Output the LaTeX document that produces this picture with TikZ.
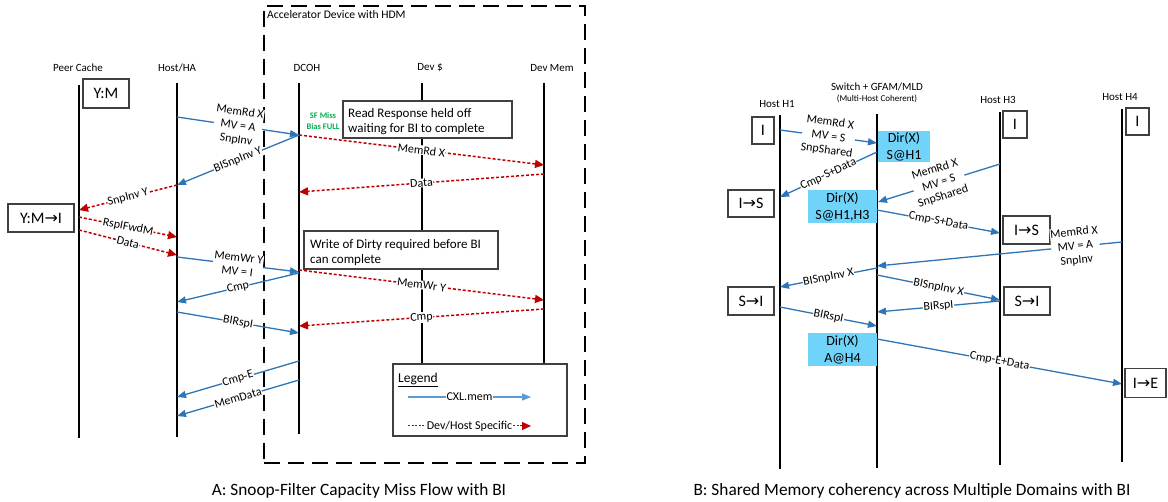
\documentclass[tikz,border=0pt]{standalone}
\usepackage{fontspec}
\setmainfont{Carlito}
\newfontfamily\symfont{DejaVu Sans}
\usetikzlibrary{arrows.meta}
\definecolor{cxlblue}{RGB}{46,117,182}
\definecolor{devred}{RGB}{192,0,0}
\definecolor{dircyan}{RGB}{112,211,250}
\definecolor{sfgreen}{RGB}{0,176,80}
\definecolor{legblue}{RGB}{91,155,213}
\definecolor{boxgray}{RGB}{64,64,64}
\newcommand\rarrow{{\symfont →}}
\begin{document}
\begin{tikzpicture}[x=1pt,y=-1pt,
  life/.style={line width=1.2pt,black},
  barr/.style={draw=cxlblue,line width=1.3pt,-{Triangle[length=9pt,width=7pt]}},
  rarr/.style={draw=devred,line width=1.5pt,dash pattern=on 3pt off 2pt,-{Triangle[length=9pt,width=8pt]}},
  elbl/.style={midway,sloped,fill=white,inner sep=0.5pt,font=\fontsize{12}{14}\selectfont,align=center,text=black},
  llbl/.style={font=\fontsize{11}{13}\selectfont,inner sep=0pt},
  state/.style={draw=boxgray,line width=1.2pt,fill=white,font=\fontsize{16}{18}\selectfont,inner sep=0pt},
  dirbox/.style={fill=dircyan,font=\fontsize{14}{17}\selectfont,align=center,inner sep=0pt},
  notebox/.style={draw=boxgray,line width=1.1pt,fill=white,inner sep=0pt},
  notetext/.style={font=\fontsize{13}{15}\selectfont,align=left,inner sep=0pt},
  leglbl/.style={fill=white,inner sep=0.5pt,font=\fontsize{12}{14}\selectfont}
]
\useasboundingbox (0,0) rectangle (1168,502);
\fill[white] (0,0) rectangle (1168,502);

% ---------------- Part A ----------------
\node[draw,line width=2.2pt,dash pattern=on 16pt off 8pt,minimum width=321pt,minimum height=457pt,inner sep=0pt] (accbox) at (424.5,234.5) {};
\node[anchor=west,font=\fontsize{11.6}{13}\selectfont,inner sep=0pt] (acc) at (267,15) {Accelerator Device with HDM};

\node[llbl] (lpc) at (78,68) {Peer Cache};
\node[llbl] (lha) at (177,68) {Host/HA};
\node[llbl] (ldc) at (307,68) {DCOH};
\node[llbl] (lds) at (430,68) {Dev \$};
\node[llbl] (ldm) at (552,68) {Dev Mem};

\coordinate (pcT) at (79,85);  \coordinate (pcB) at (79,438);
\coordinate (haT) at (177,83); \coordinate (haB) at (177,437);
\coordinate (dcT) at (299,83); \coordinate (dcB) at (299,434);
\coordinate (dsT) at (422,83); \coordinate (dsB) at (422,364);
\coordinate (dmT) at (544,83); \coordinate (dmB) at (544,364);
\foreach \a/\b in {pcT/pcB,haT/haB,dcT/dcB,dsT/dsB,dmT/dmB} \draw[life] (\a) -- (\b);

% note boxes
\node[notebox,minimum width=169pt,minimum height=37pt] (rr) at (427.5,119.5) {};
\node[notetext,anchor=west] (rrt) at (348,121.5) {Read Response held off\\waiting for BI to complete};
\node[notebox,minimum width=194pt,minimum height=38pt] (wd) at (401,250) {};
\node[notetext,anchor=west] (wdt) at (310,252.5) {Write of Dirty required before BI\\can complete};
\node[font=\bfseries\fontsize{8.5}{10.5}\selectfont,text=sfgreen,align=center,inner sep=0pt] (sf) at (323,121) {SF Miss\\Bias FULL};

% state boxes
\node[state,minimum width=46pt,minimum height=29pt] (ym) at (106,93.5) {Y:M};
\node[state,minimum width=66pt,minimum height=28pt] (ymi) at (41,218) {Y:M\rarrow I};

% arrow end points
\coordinate (a1s) at (177,117); \coordinate (a1e) at (299,135);
\coordinate (a2s) at (299,135); \coordinate (a2e) at (177,185);
\coordinate (a3s) at (299,135); \coordinate (a3e) at (544,165);
\coordinate (a4s) at (544,174); \coordinate (a4e) at (299,192);
\coordinate (a5s) at (177,185); \coordinate (a5e) at (79,210);
\coordinate (a6s) at (79,217);  \coordinate (a6e) at (177,237);
\coordinate (a7s) at (79,230);  \coordinate (a7e) at (177,255);
\coordinate (a8s) at (177,257); \coordinate (a8e) at (299,272);
\coordinate (a9s) at (299,273); \coordinate (a9e) at (177,302);
\coordinate (a10s) at (299,270); \coordinate (a10e) at (544,300);
\coordinate (a11s) at (544,309); \coordinate (a11e) at (299,326);
\coordinate (a12s) at (177,312); \coordinate (a12e) at (299,333);
\coordinate (a13s) at (299,361); \coordinate (a13e) at (177,397);
\coordinate (a14s) at (299,380); \coordinate (a14e) at (177,416);

\draw[barr] (a1s) -- node[elbl]{MemRd X\\MV = A\\SnpInv} (a1e);
\draw[barr] (a2s) -- node[elbl]{BISnpInv Y} (a2e);
\draw[rarr] (a3s) -- node[elbl]{MemRd X} (a3e);
\draw[rarr] (a4s) -- node[elbl]{Data} (a4e);
\draw[rarr] (a5s) -- node[elbl]{SnpInv Y} (a5e);
\draw[rarr] (a6s) -- node[elbl]{RspIFwdM} (a6e);
\draw[rarr] (a7s) -- node[elbl]{Data} (a7e);
\draw[barr] (a8s) -- node[elbl]{MemWr Y\\MV = I} (a8e);
\draw[barr] (a9s) -- node[elbl]{Cmp} (a9e);
\draw[rarr] (a10s) -- node[elbl]{MemWr Y} (a10e);
\draw[rarr] (a11s) -- node[elbl]{Cmp} (a11e);
\draw[barr] (a12s) -- node[elbl]{BIRspI} (a12e);
\draw[barr] (a13s) -- node[elbl]{Cmp-E} (a13e);
\draw[barr] (a14s) -- node[elbl]{MemData} (a14e);

% legend
\node[notebox,minimum width=174pt,minimum height=72pt] (leg) at (480,400) {};
\node[anchor=west,font=\fontsize{13.5}{15}\selectfont,inner sep=0pt] (legt) at (398,380) {\underline{Legend}};
\coordinate (l1s) at (408,397); \coordinate (l1e) at (531,397);
\coordinate (l2s) at (408,426); \coordinate (l2e) at (531,426);
\draw[draw=legblue,line width=1.3pt,-{Triangle[length=9pt,width=7pt]}] (l1s) -- node[leglbl]{CXL.mem} (l1e);
\draw[draw=devred,line width=1pt,dash pattern=on 2pt off 1.5pt,-{Triangle[length=9pt,width=8pt]}] (l2s) -- node[leglbl]{Dev/Host Specific} (l2e);

\node[font=\fontsize{17.3}{20}\selectfont,inner sep=0pt] (capA) at (359,491) {A: Snoop-Filter Capacity Miss Flow with BI};

% ---------------- Part B ----------------
\node[llbl] (lh1) at (777,104) {Host H1};
\node[llbl] (lsw) at (877,87) {Switch + GFAM/MLD};
\node[font=\fontsize{9}{10}\selectfont,inner sep=0pt] (lsw2) at (877,99) {(Multi-Host Coherent)};
\node[llbl] (lh3) at (998,100) {Host H3};
\node[llbl] (lh4) at (1120,97) {Host H4};

\coordinate (h1T) at (780,115);  \coordinate (h1B) at (780,469);
\coordinate (swT) at (877,114);  \coordinate (swB) at (877,468);
\coordinate (h3T) at (1000,112); \coordinate (h3B) at (1000,465);
\coordinate (h4T) at (1122,109); \coordinate (h4B) at (1122,462);
\foreach \a/\b in {h1T/h1B,swT/swB,h3T/h3B,h4T/h4B} \draw[life] (\a) -- (\b);

\node[state,minimum width=22pt,minimum height=27pt] (s1) at (763,130.5) {I};
\node[state,minimum width=46pt,minimum height=27pt] (s2) at (751,203.5) {I\rarrow S};
\node[state,minimum width=46pt,minimum height=28pt] (s3) at (751,301) {S\rarrow I};
\node[state,minimum width=24pt,minimum height=27pt] (s4) at (1015,124.5) {I};
\node[state,minimum width=47pt,minimum height=28pt] (s5) at (1026.5,230) {I\rarrow S};
\node[state,minimum width=46pt,minimum height=28pt] (s6) at (1027,301) {S\rarrow I};
\node[state,minimum width=23pt,minimum height=27pt] (s7) at (1137.5,121.5) {I};
\node[state,minimum width=41pt,minimum height=29pt] (s8) at (1145.5,383) {I\rarrow E};

\node[dirbox,minimum width=52pt,minimum height=31pt] (d1) at (904,146.5) {Dir(X)\\S@H1};
\node[dirbox,minimum width=69pt,minimum height=33pt] (d2) at (842.5,206.5) {Dir(X)\\S@H1,H3};
\node[dirbox,minimum width=69pt,minimum height=33pt] (d3) at (842.5,349.5) {Dir(X)\\A@H4};

\coordinate (b1s) at (780,130);  \coordinate (b1e) at (877,143);
\coordinate (b2s) at (877,152);  \coordinate (b2e) at (780,197);
\coordinate (b3s) at (1000,164); \coordinate (b3e) at (878,202);
\coordinate (b4s) at (877,210);  \coordinate (b4e) at (1000,233);
\coordinate (b5s) at (1122,242); \coordinate (b5e) at (877,266);
\coordinate (b6s) at (877,268);  \coordinate (b6e) at (780,287);
\coordinate (b7s) at (877,275);  \coordinate (b7e) at (1000,300);
\coordinate (b8s) at (1000,301); \coordinate (b8e) at (877,312);
\coordinate (b9s) at (780,307);  \coordinate (b9e) at (877,326);
\coordinate (b10s) at (877,339); \coordinate (b10e) at (1122,384);

\draw[barr] (b1s) -- node[elbl]{MemRd X\\MV = S\\SnpShared} (b1e);
\draw[barr] (b2s) -- node[elbl]{Cmp-S+Data} (b2e);
\draw[barr] (b3s) -- node[elbl]{MemRd X\\MV = S\\SnpShared} (b3e);
\draw[barr] (b4s) -- node[elbl]{Cmp-S+Data} (b4e);
\draw[barr] (b5s) -- node[elbl,pos=0.19]{MemRd X\\MV = A\\SnpInv} (b5e);
\draw[barr] (b6s) -- node[elbl]{BISnpInv X} (b6e);
\draw[barr] (b7s) -- node[elbl]{BISnpInv X} (b7e);
\draw[barr] (b8s) -- node[elbl]{BIRspI} (b8e);
\draw[barr] (b9s) -- node[elbl]{BIRspI} (b9e);
\draw[barr] (b10s) -- node[elbl]{Cmp-E+Data} (b10e);

\node[font=\fontsize{17.3}{20}\selectfont,inner sep=0pt] (capB) at (912,491) {B: Shared Memory coherency across Multiple Domains with BI};
\end{tikzpicture}
\end{document}
